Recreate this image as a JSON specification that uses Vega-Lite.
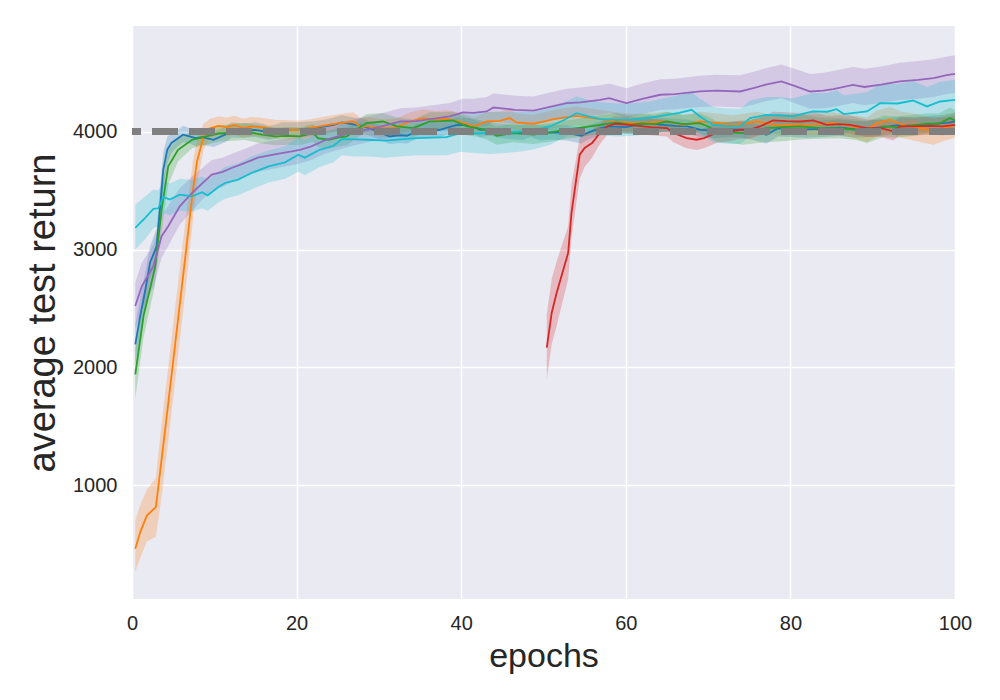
{
  "$schema": "https://vega.github.io/schema/vega-lite/v6.json",
  "autosize": {"type": "none"},
  "width": 823,
  "height": 573,
  "padding": {"left": 132, "top": 26, "right": 45, "bottom": 101},
  "background": "#FFFFFF",
  "config": {
    "view": {"fill": "#EAEAF2", "stroke": null},
    "font": "Liberation Sans",
    "axis": {
      "domain": false,
      "ticks": false,
      "grid": true,
      "gridColor": "#FFFFFF",
      "gridWidth": 1.5,
      "labelFlush": false,
      "labelFont": "Liberation Sans",
      "labelFontSize": 20,
      "labelColor": "#262626",
      "titleFont": "Liberation Sans",
      "titleColor": "#262626",
      "titleFontWeight": "normal"
    }
  },
  "data": {
    "values": [
      {"s":"A","e":0.4,"m":2195,"l":2030,"h":2360},
      {"s":"A","e":1.0,"m":2435,"l":2280,"h":2590},
      {"s":"A","e":1.6,"m":2650,"l":2500,"h":2800},
      {"s":"A","e":2.2,"m":2890,"l":2750,"h":3030},
      {"s":"A","e":3.0,"m":3028,"l":2870,"h":3180},
      {"s":"A","e":3.4,"m":3350,"l":3180,"h":3520},
      {"s":"A","e":3.8,"m":3678,"l":3520,"h":3830},
      {"s":"A","e":4.3,"m":3850,"l":3730,"h":3960},
      {"s":"A","e":4.8,"m":3905,"l":3820,"h":3990},
      {"s":"A","e":5.5,"m":3940,"l":3870,"h":4010},
      {"s":"A","e":6.2,"m":3975,"l":3910,"h":4050},
      {"s":"A","e":7.0,"m":3960,"l":3900,"h":4030},
      {"s":"A","e":7.7,"m":3946,"l":3880,"h":4010},
      {"s":"A","e":8.5,"m":3955,"l":3890,"h":4020},
      {"s":"A","e":9.9,"m":3932,"l":3870,"h":4000},
      {"s":"A","e":11.3,"m":3975,"l":3910,"h":4040},
      {"s":"A","e":12.1,"m":4017,"l":3950,"h":4080},
      {"s":"A","e":13.5,"m":4010,"l":3950,"h":4070},
      {"s":"A","e":15.0,"m":4015,"l":3955,"h":4080},
      {"s":"A","e":16.0,"m":4003,"l":3940,"h":4065},
      {"s":"A","e":16.6,"m":3990,"l":3930,"h":4050},
      {"s":"A","e":17.4,"m":4000,"l":3940,"h":4060},
      {"s":"A","e":18.2,"m":4017,"l":3960,"h":4080},
      {"s":"A","e":20.0,"m":4017,"l":3955,"h":4080},
      {"s":"A","e":21.0,"m":4025,"l":3965,"h":4085},
      {"s":"A","e":22.2,"m":4031,"l":3970,"h":4090},
      {"s":"A","e":23.5,"m":4045,"l":3985,"h":4105},
      {"s":"A","e":24.5,"m":4059,"l":4000,"h":4120},
      {"s":"A","e":25.5,"m":4080,"l":4020,"h":4140},
      {"s":"A","e":27.0,"m":4060,"l":4000,"h":4120},
      {"s":"A","e":28.0,"m":4050,"l":3990,"h":4110},
      {"s":"A","e":29.3,"m":4017,"l":3955,"h":4080},
      {"s":"A","e":30.3,"m":3990,"l":3930,"h":4050},
      {"s":"A","e":31.3,"m":3960,"l":3895,"h":4025},
      {"s":"A","e":32.5,"m":3970,"l":3905,"h":4035},
      {"s":"A","e":33.4,"m":3966,"l":3900,"h":4030},
      {"s":"A","e":34.6,"m":4003,"l":3940,"h":4065},
      {"s":"A","e":36.0,"m":4010,"l":3950,"h":4070},
      {"s":"A","e":37.4,"m":4017,"l":3955,"h":4080},
      {"s":"A","e":38.5,"m":4040,"l":3980,"h":4100},
      {"s":"A","e":39.5,"m":4059,"l":4000,"h":4120},
      {"s":"A","e":41.0,"m":4055,"l":3995,"h":4115},
      {"s":"A","e":42.3,"m":4017,"l":3955,"h":4080},
      {"s":"A","e":43.5,"m":4025,"l":3965,"h":4085},
      {"s":"A","e":44.5,"m":4010,"l":3950,"h":4070},
      {"s":"A","e":45.5,"m":4003,"l":3940,"h":4065},
      {"s":"A","e":46.5,"m":3995,"l":3935,"h":4055},
      {"s":"A","e":47.5,"m":3994,"l":3930,"h":4060},
      {"s":"A","e":48.5,"m":4017,"l":3955,"h":4080},
      {"s":"A","e":49.6,"m":3989,"l":3925,"h":4050},
      {"s":"A","e":51.0,"m":3995,"l":3935,"h":4055},
      {"s":"A","e":52.8,"m":3990,"l":3925,"h":4055},
      {"s":"A","e":54.6,"m":3966,"l":3900,"h":4030},
      {"s":"A","e":55.5,"m":3995,"l":3935,"h":4055},
      {"s":"A","e":56.9,"m":4031,"l":3970,"h":4090},
      {"s":"A","e":58.0,"m":4045,"l":3985,"h":4105},
      {"s":"A","e":60.0,"m":4040,"l":3980,"h":4100},
      {"s":"A","e":61.5,"m":4060,"l":4000,"h":4120},
      {"s":"A","e":62.9,"m":4080,"l":4020,"h":4140},
      {"s":"A","e":64.0,"m":4060,"l":4000,"h":4120},
      {"s":"A","e":66.0,"m":4050,"l":3990,"h":4110},
      {"s":"A","e":67.5,"m":4045,"l":3985,"h":4105},
      {"s":"A","e":69.0,"m":4017,"l":3955,"h":4080},
      {"s":"A","e":71.0,"m":4010,"l":3945,"h":4075},
      {"s":"A","e":73.0,"m":4020,"l":3955,"h":4085},
      {"s":"A","e":74.2,"m":4017,"l":3950,"h":4085},
      {"s":"A","e":75.5,"m":4000,"l":3930,"h":4070},
      {"s":"A","e":77.1,"m":3975,"l":3900,"h":4050},
      {"s":"A","e":78.5,"m":4030,"l":3960,"h":4100},
      {"s":"A","e":80.0,"m":4025,"l":3955,"h":4095},
      {"s":"A","e":82.0,"m":4020,"l":3950,"h":4090},
      {"s":"A","e":84.0,"m":4025,"l":3955,"h":4095},
      {"s":"A","e":86.0,"m":4035,"l":3965,"h":4105},
      {"s":"A","e":88.0,"m":4020,"l":3950,"h":4090},
      {"s":"A","e":90.0,"m":4030,"l":3960,"h":4100},
      {"s":"A","e":92.0,"m":4045,"l":3975,"h":4115},
      {"s":"A","e":93.3,"m":4059,"l":3990,"h":4130},
      {"s":"A","e":95.0,"m":4050,"l":3980,"h":4120},
      {"s":"A","e":97.0,"m":4065,"l":3995,"h":4135},
      {"s":"A","e":99.0,"m":4075,"l":4005,"h":4145},
      {"s":"A","e":100,"m":4087,"l":4015,"h":4160},

      {"s":"B","e":0.4,"m":458,"l":263,"h":700},
      {"s":"B","e":1.0,"m":600,"l":380,"h":830},
      {"s":"B","e":1.8,"m":740,"l":520,"h":960},
      {"s":"B","e":2.9,"m":813,"l":560,"h":1060},
      {"s":"B","e":3.6,"m":1220,"l":900,"h":1520},
      {"s":"B","e":4.5,"m":1750,"l":1430,"h":2060},
      {"s":"B","e":5.5,"m":2350,"l":2040,"h":2660},
      {"s":"B","e":6.5,"m":2950,"l":2650,"h":3250},
      {"s":"B","e":7.4,"m":3500,"l":3250,"h":3750},
      {"s":"B","e":7.9,"m":3748,"l":3550,"h":3930},
      {"s":"B","e":8.7,"m":3960,"l":3850,"h":4070},
      {"s":"B","e":9.5,"m":4030,"l":3950,"h":4110},
      {"s":"B","e":10.5,"m":4050,"l":3970,"h":4130},
      {"s":"B","e":11.5,"m":4040,"l":3960,"h":4120},
      {"s":"B","e":12.5,"m":4055,"l":3975,"h":4135},
      {"s":"B","e":13.5,"m":4030,"l":3950,"h":4110},
      {"s":"B","e":14.5,"m":4045,"l":3965,"h":4125},
      {"s":"B","e":15.5,"m":4040,"l":3960,"h":4120},
      {"s":"B","e":16.5,"m":4030,"l":3950,"h":4110},
      {"s":"B","e":17.5,"m":4020,"l":3940,"h":4100},
      {"s":"B","e":18.5,"m":4020,"l":3940,"h":4100},
      {"s":"B","e":19.5,"m":4015,"l":3935,"h":4095},
      {"s":"B","e":20.4,"m":4017,"l":3940,"h":4095},
      {"s":"B","e":21.5,"m":4030,"l":3955,"h":4105},
      {"s":"B","e":22.8,"m":4045,"l":3970,"h":4120},
      {"s":"B","e":24.0,"m":4060,"l":3985,"h":4135},
      {"s":"B","e":25.3,"m":4073,"l":3995,"h":4150},
      {"s":"B","e":26.9,"m":4087,"l":4010,"h":4165},
      {"s":"B","e":27.7,"m":4045,"l":3970,"h":4120},
      {"s":"B","e":29.0,"m":4045,"l":3970,"h":4120},
      {"s":"B","e":30.5,"m":4031,"l":3955,"h":4105},
      {"s":"B","e":32.0,"m":4035,"l":3960,"h":4110},
      {"s":"B","e":33.8,"m":4087,"l":4010,"h":4165},
      {"s":"B","e":35.4,"m":4116,"l":4040,"h":4190},
      {"s":"B","e":37.0,"m":4100,"l":4025,"h":4175},
      {"s":"B","e":38.2,"m":4108,"l":4030,"h":4185},
      {"s":"B","e":39.5,"m":4090,"l":4015,"h":4165},
      {"s":"B","e":40.7,"m":4068,"l":3990,"h":4145},
      {"s":"B","e":41.5,"m":4045,"l":3970,"h":4120},
      {"s":"B","e":43.1,"m":4087,"l":4010,"h":4165},
      {"s":"B","e":44.7,"m":4093,"l":4015,"h":4170},
      {"s":"B","e":45.9,"m":4116,"l":4040,"h":4190},
      {"s":"B","e":46.7,"m":4079,"l":4000,"h":4155},
      {"s":"B","e":48.7,"m":4068,"l":3990,"h":4145},
      {"s":"B","e":50.0,"m":4085,"l":4005,"h":4165},
      {"s":"B","e":51.2,"m":4108,"l":4030,"h":4185},
      {"s":"B","e":52.5,"m":4120,"l":4040,"h":4200},
      {"s":"B","e":54.0,"m":4135,"l":4055,"h":4215},
      {"s":"B","e":55.5,"m":4120,"l":4040,"h":4200},
      {"s":"B","e":56.9,"m":4108,"l":4030,"h":4185},
      {"s":"B","e":58.9,"m":4087,"l":4010,"h":4165},
      {"s":"B","e":60.9,"m":4073,"l":3995,"h":4150},
      {"s":"B","e":63.0,"m":4080,"l":4000,"h":4160},
      {"s":"B","e":65.0,"m":4087,"l":4005,"h":4170},
      {"s":"B","e":67.0,"m":4059,"l":3975,"h":4140},
      {"s":"B","e":69.0,"m":4087,"l":4005,"h":4170},
      {"s":"B","e":71.0,"m":4075,"l":3995,"h":4155},
      {"s":"B","e":73.1,"m":4059,"l":3980,"h":4140},
      {"s":"B","e":75.9,"m":4087,"l":4005,"h":4170},
      {"s":"B","e":78.7,"m":4051,"l":3970,"h":4130},
      {"s":"B","e":80.5,"m":4060,"l":3975,"h":4145},
      {"s":"B","e":82.0,"m":4059,"l":3970,"h":4145},
      {"s":"B","e":85.2,"m":4073,"l":3980,"h":4165},
      {"s":"B","e":87.6,"m":4045,"l":3950,"h":4140},
      {"s":"B","e":89.3,"m":4017,"l":3910,"h":4120},
      {"s":"B","e":90.5,"m":4073,"l":3960,"h":4180},
      {"s":"B","e":92.1,"m":4102,"l":3990,"h":4210},
      {"s":"B","e":93.5,"m":4060,"l":3950,"h":4170},
      {"s":"B","e":95.3,"m":4040,"l":3920,"h":4150},
      {"s":"B","e":97.4,"m":4003,"l":3890,"h":4110},
      {"s":"B","e":99.0,"m":4040,"l":3930,"h":4150},
      {"s":"B","e":100,"m":4059,"l":3950,"h":4165},

      {"s":"C","e":0.4,"m":1940,"l":1730,"h":2150},
      {"s":"C","e":1.4,"m":2435,"l":2250,"h":2620},
      {"s":"C","e":2.8,"m":2847,"l":2700,"h":3000},
      {"s":"C","e":3.6,"m":3339,"l":3150,"h":3520},
      {"s":"C","e":4.4,"m":3706,"l":3550,"h":3850},
      {"s":"C","e":5.6,"m":3847,"l":3750,"h":3940},
      {"s":"C","e":7.3,"m":3932,"l":3860,"h":4005},
      {"s":"C","e":9.0,"m":3960,"l":3890,"h":4030},
      {"s":"C","e":10.5,"m":3985,"l":3915,"h":4055},
      {"s":"C","e":11.3,"m":3989,"l":3920,"h":4060},
      {"s":"C","e":13.7,"m":4003,"l":3930,"h":4075},
      {"s":"C","e":15.8,"m":3975,"l":3900,"h":4050},
      {"s":"C","e":17.4,"m":3960,"l":3885,"h":4035},
      {"s":"C","e":19.0,"m":3965,"l":3890,"h":4040},
      {"s":"C","e":20.4,"m":3960,"l":3885,"h":4035},
      {"s":"C","e":22.0,"m":3989,"l":3915,"h":4065},
      {"s":"C","e":22.6,"m":3946,"l":3870,"h":4020},
      {"s":"C","e":23.9,"m":3932,"l":3855,"h":4010},
      {"s":"C","e":25.0,"m":3950,"l":3875,"h":4025},
      {"s":"C","e":26.1,"m":3960,"l":3885,"h":4035},
      {"s":"C","e":27.5,"m":4030,"l":3955,"h":4105},
      {"s":"C","e":28.5,"m":4073,"l":4000,"h":4150},
      {"s":"C","e":30.5,"m":4087,"l":4010,"h":4160},
      {"s":"C","e":32.2,"m":4045,"l":3970,"h":4120},
      {"s":"C","e":34.2,"m":4031,"l":3955,"h":4105},
      {"s":"C","e":35.2,"m":4060,"l":3985,"h":4135},
      {"s":"C","e":36.2,"m":4087,"l":4010,"h":4165},
      {"s":"C","e":37.5,"m":4090,"l":4015,"h":4165},
      {"s":"C","e":39.0,"m":4096,"l":4020,"h":4170},
      {"s":"C","e":40.7,"m":4045,"l":3970,"h":4120},
      {"s":"C","e":42.0,"m":4030,"l":3955,"h":4105},
      {"s":"C","e":43.1,"m":4011,"l":3935,"h":4085},
      {"s":"C","e":44.3,"m":3966,"l":3890,"h":4045},
      {"s":"C","e":46.3,"m":3989,"l":3910,"h":4065},
      {"s":"C","e":48.8,"m":3975,"l":3895,"h":4055},
      {"s":"C","e":50.8,"m":3995,"l":3915,"h":4075},
      {"s":"C","e":52.8,"m":4017,"l":3940,"h":4095},
      {"s":"C","e":55.0,"m":4040,"l":3960,"h":4120},
      {"s":"C","e":56.9,"m":4059,"l":3980,"h":4140},
      {"s":"C","e":58.9,"m":4080,"l":4000,"h":4160},
      {"s":"C","e":60.5,"m":4060,"l":3980,"h":4140},
      {"s":"C","e":62.0,"m":4070,"l":3990,"h":4150},
      {"s":"C","e":63.5,"m":4065,"l":3985,"h":4145},
      {"s":"C","e":65.0,"m":4087,"l":4005,"h":4170},
      {"s":"C","e":67.0,"m":4065,"l":3985,"h":4145},
      {"s":"C","e":69.0,"m":4073,"l":3990,"h":4155},
      {"s":"C","e":70.0,"m":4045,"l":3960,"h":4130},
      {"s":"C","e":71.0,"m":4003,"l":3915,"h":4090},
      {"s":"C","e":72.5,"m":3995,"l":3905,"h":4085},
      {"s":"C","e":74.2,"m":3989,"l":3890,"h":4085},
      {"s":"C","e":75.5,"m":4010,"l":3900,"h":4110},
      {"s":"C","e":77.1,"m":4031,"l":3910,"h":4140},
      {"s":"C","e":79.0,"m":4040,"l":3920,"h":4150},
      {"s":"C","e":81.2,"m":4045,"l":3935,"h":4150},
      {"s":"C","e":83.6,"m":4031,"l":3940,"h":4120},
      {"s":"C","e":86.0,"m":4030,"l":3945,"h":4115},
      {"s":"C","e":88.0,"m":4017,"l":3930,"h":4105},
      {"s":"C","e":89.3,"m":3994,"l":3905,"h":4085},
      {"s":"C","e":91.3,"m":4045,"l":3955,"h":4135},
      {"s":"C","e":93.0,"m":4040,"l":3950,"h":4130},
      {"s":"C","e":95.0,"m":4055,"l":3965,"h":4145},
      {"s":"C","e":96.6,"m":4068,"l":3980,"h":4155},
      {"s":"C","e":98.0,"m":4068,"l":3980,"h":4155},
      {"s":"C","e":99.4,"m":4116,"l":4025,"h":4205},
      {"s":"C","e":100,"m":4095,"l":4005,"h":4185},

      {"s":"D","e":50.4,"m":2167,"l":1900,"h":2450},
      {"s":"D","e":51.0,"m":2463,"l":2200,"h":2750},
      {"s":"D","e":51.6,"m":2633,"l":2350,"h":2900},
      {"s":"D","e":53.0,"m":2972,"l":2750,"h":3200},
      {"s":"D","e":53.4,"m":3311,"l":3100,"h":3550},
      {"s":"D","e":54.4,"m":3805,"l":3600,"h":3950},
      {"s":"D","e":55.0,"m":3862,"l":3700,"h":3990},
      {"s":"D","e":55.9,"m":3904,"l":3780,"h":4020},
      {"s":"D","e":56.7,"m":3975,"l":3880,"h":4060},
      {"s":"D","e":57.7,"m":4045,"l":3970,"h":4110},
      {"s":"D","e":58.7,"m":4068,"l":4000,"h":4130},
      {"s":"D","e":60.0,"m":4060,"l":3990,"h":4130},
      {"s":"D","e":61.5,"m":4050,"l":3980,"h":4120},
      {"s":"D","e":63.0,"m":4040,"l":3970,"h":4110},
      {"s":"D","e":65.0,"m":4031,"l":3960,"h":4100},
      {"s":"D","e":65.8,"m":3989,"l":3910,"h":4065},
      {"s":"D","e":67.4,"m":3946,"l":3860,"h":4030},
      {"s":"D","e":68.6,"m":3932,"l":3845,"h":4020},
      {"s":"D","e":69.5,"m":3946,"l":3860,"h":4030},
      {"s":"D","e":71.0,"m":3989,"l":3905,"h":4075},
      {"s":"D","e":72.5,"m":4000,"l":3920,"h":4080},
      {"s":"D","e":73.9,"m":4017,"l":3940,"h":4095},
      {"s":"D","e":75.0,"m":4017,"l":3940,"h":4095},
      {"s":"D","e":76.3,"m":4045,"l":3970,"h":4120},
      {"s":"D","e":77.9,"m":4096,"l":4020,"h":4170},
      {"s":"D","e":79.5,"m":4090,"l":4015,"h":4165},
      {"s":"D","e":81.2,"m":4087,"l":4010,"h":4160},
      {"s":"D","e":82.8,"m":4096,"l":4020,"h":4170},
      {"s":"D","e":84.4,"m":4059,"l":3985,"h":4135},
      {"s":"D","e":86.0,"m":4065,"l":3990,"h":4140},
      {"s":"D","e":87.2,"m":4059,"l":3985,"h":4135},
      {"s":"D","e":89.3,"m":4031,"l":3955,"h":4105},
      {"s":"D","e":91.0,"m":4030,"l":3955,"h":4105},
      {"s":"D","e":92.5,"m":4003,"l":3925,"h":4080},
      {"s":"D","e":93.3,"m":4045,"l":3970,"h":4120},
      {"s":"D","e":95.0,"m":4045,"l":3970,"h":4120},
      {"s":"D","e":97.0,"m":4050,"l":3975,"h":4125},
      {"s":"D","e":98.5,"m":4045,"l":3970,"h":4120},
      {"s":"D","e":100,"m":4059,"l":3985,"h":4135},

      {"s":"E","e":0.4,"m":2520,"l":2330,"h":2720},
      {"s":"E","e":1.2,"m":2690,"l":2490,"h":2890},
      {"s":"E","e":2.6,"m":2858,"l":2680,"h":3040},
      {"s":"E","e":3.6,"m":3113,"l":2930,"h":3290},
      {"s":"E","e":4.4,"m":3198,"l":3030,"h":3370},
      {"s":"E","e":5.8,"m":3367,"l":3210,"h":3520},
      {"s":"E","e":7.3,"m":3480,"l":3330,"h":3620},
      {"s":"E","e":8.5,"m":3560,"l":3420,"h":3690},
      {"s":"E","e":9.7,"m":3636,"l":3500,"h":3760},
      {"s":"E","e":11.0,"m":3660,"l":3530,"h":3780},
      {"s":"E","e":12.1,"m":3692,"l":3570,"h":3810},
      {"s":"E","e":13.5,"m":3730,"l":3610,"h":3850},
      {"s":"E","e":15.3,"m":3780,"l":3660,"h":3900},
      {"s":"E","e":17.5,"m":3810,"l":3690,"h":3930},
      {"s":"E","e":19.4,"m":3833,"l":3715,"h":3950},
      {"s":"E","e":20.4,"m":3847,"l":3730,"h":3965},
      {"s":"E","e":21.8,"m":3876,"l":3760,"h":3990},
      {"s":"E","e":23.5,"m":3930,"l":3815,"h":4045},
      {"s":"E","e":25.0,"m":3960,"l":3845,"h":4075},
      {"s":"E","e":26.5,"m":3989,"l":3875,"h":4100},
      {"s":"E","e":28.0,"m":4010,"l":3900,"h":4120},
      {"s":"E","e":30.0,"m":4040,"l":3930,"h":4150},
      {"s":"E","e":32.6,"m":4087,"l":3975,"h":4200},
      {"s":"E","e":34.5,"m":4090,"l":3975,"h":4205},
      {"s":"E","e":36.5,"m":4110,"l":3995,"h":4225},
      {"s":"E","e":38.6,"m":4130,"l":4015,"h":4245},
      {"s":"E","e":40.2,"m":4164,"l":4045,"h":4280},
      {"s":"E","e":41.5,"m":4160,"l":4040,"h":4280},
      {"s":"E","e":43.1,"m":4172,"l":4050,"h":4295},
      {"s":"E","e":43.9,"m":4206,"l":4085,"h":4325},
      {"s":"E","e":45.5,"m":4195,"l":4075,"h":4315},
      {"s":"E","e":46.5,"m":4185,"l":4065,"h":4305},
      {"s":"E","e":48.8,"m":4180,"l":4060,"h":4300},
      {"s":"E","e":50.5,"m":4206,"l":4085,"h":4330},
      {"s":"E","e":52.8,"m":4243,"l":4120,"h":4365},
      {"s":"E","e":54.5,"m":4250,"l":4125,"h":4375},
      {"s":"E","e":56.9,"m":4271,"l":4145,"h":4395},
      {"s":"E","e":58.0,"m":4285,"l":4160,"h":4410},
      {"s":"E","e":59.0,"m":4265,"l":4140,"h":4390},
      {"s":"E","e":60.1,"m":4243,"l":4115,"h":4370},
      {"s":"E","e":62.0,"m":4280,"l":4150,"h":4410},
      {"s":"E","e":64.2,"m":4314,"l":4185,"h":4445},
      {"s":"E","e":66.0,"m":4320,"l":4190,"h":4450},
      {"s":"E","e":69.0,"m":4342,"l":4210,"h":4475},
      {"s":"E","e":71.0,"m":4350,"l":4215,"h":4485},
      {"s":"E","e":73.9,"m":4342,"l":4205,"h":4480},
      {"s":"E","e":75.5,"m":4370,"l":4230,"h":4510},
      {"s":"E","e":77.0,"m":4400,"l":4260,"h":4540},
      {"s":"E","e":78.9,"m":4427,"l":4285,"h":4570},
      {"s":"E","e":80.5,"m":4390,"l":4245,"h":4535},
      {"s":"E","e":82.4,"m":4342,"l":4195,"h":4490},
      {"s":"E","e":84.0,"m":4350,"l":4200,"h":4500},
      {"s":"E","e":85.2,"m":4362,"l":4210,"h":4515},
      {"s":"E","e":87.6,"m":4398,"l":4245,"h":4550},
      {"s":"E","e":89.0,"m":4380,"l":4225,"h":4535},
      {"s":"E","e":91.0,"m":4400,"l":4245,"h":4555},
      {"s":"E","e":93.3,"m":4427,"l":4270,"h":4585},
      {"s":"E","e":95.5,"m":4440,"l":4280,"h":4600},
      {"s":"E","e":97.4,"m":4455,"l":4295,"h":4615},
      {"s":"E","e":99.0,"m":4480,"l":4320,"h":4640},
      {"s":"E","e":100,"m":4492,"l":4330,"h":4650},

      {"s":"F","e":0.4,"m":3184,"l":3000,"h":3380},
      {"s":"F","e":1.6,"m":3269,"l":3090,"h":3450},
      {"s":"F","e":2.6,"m":3345,"l":3180,"h":3510},
      {"s":"F","e":3.2,"m":3350,"l":3200,"h":3500},
      {"s":"F","e":3.8,"m":3447,"l":3310,"h":3580},
      {"s":"F","e":4.6,"m":3424,"l":3290,"h":3560},
      {"s":"F","e":5.8,"m":3466,"l":3330,"h":3600},
      {"s":"F","e":7.3,"m":3452,"l":3320,"h":3590},
      {"s":"F","e":8.5,"m":3486,"l":3350,"h":3620},
      {"s":"F","e":9.2,"m":3460,"l":3330,"h":3590},
      {"s":"F","e":10.5,"m":3531,"l":3400,"h":3660},
      {"s":"F","e":11.3,"m":3565,"l":3430,"h":3700},
      {"s":"F","e":12.9,"m":3593,"l":3460,"h":3730},
      {"s":"F","e":14.5,"m":3650,"l":3510,"h":3790},
      {"s":"F","e":16.6,"m":3706,"l":3570,"h":3840},
      {"s":"F","e":18.6,"m":3740,"l":3600,"h":3880},
      {"s":"F","e":20.2,"m":3805,"l":3660,"h":3950},
      {"s":"F","e":21.0,"m":3780,"l":3630,"h":3930},
      {"s":"F","e":22.8,"m":3847,"l":3700,"h":3990},
      {"s":"F","e":24.5,"m":3881,"l":3740,"h":4020},
      {"s":"F","e":25.5,"m":3938,"l":3800,"h":4075},
      {"s":"F","e":27.0,"m":3935,"l":3790,"h":4080},
      {"s":"F","e":28.5,"m":3932,"l":3790,"h":4075},
      {"s":"F","e":30.9,"m":3924,"l":3780,"h":4070},
      {"s":"F","e":32.5,"m":3935,"l":3790,"h":4080},
      {"s":"F","e":34.6,"m":3946,"l":3800,"h":4090},
      {"s":"F","e":36.5,"m":3950,"l":3800,"h":4100},
      {"s":"F","e":38.2,"m":3955,"l":3800,"h":4110},
      {"s":"F","e":39.9,"m":3989,"l":3830,"h":4150},
      {"s":"F","e":41.5,"m":3985,"l":3820,"h":4150},
      {"s":"F","e":43.5,"m":3990,"l":3810,"h":4170},
      {"s":"F","e":45.5,"m":3995,"l":3820,"h":4170},
      {"s":"F","e":47.0,"m":4000,"l":3830,"h":4170},
      {"s":"F","e":48.8,"m":4011,"l":3850,"h":4170},
      {"s":"F","e":50.8,"m":4045,"l":3890,"h":4200},
      {"s":"F","e":52.5,"m":4100,"l":3950,"h":4250},
      {"s":"F","e":54.0,"m":4158,"l":4010,"h":4300},
      {"s":"F","e":55.5,"m":4130,"l":3990,"h":4270},
      {"s":"F","e":56.9,"m":4108,"l":3970,"h":4250},
      {"s":"F","e":59.0,"m":4100,"l":3960,"h":4240},
      {"s":"F","e":61.0,"m":4105,"l":3965,"h":4245},
      {"s":"F","e":63.0,"m":4120,"l":3980,"h":4260},
      {"s":"F","e":65.0,"m":4144,"l":4000,"h":4290},
      {"s":"F","e":66.5,"m":4160,"l":4010,"h":4310},
      {"s":"F","e":68.0,"m":4186,"l":4035,"h":4335},
      {"s":"F","e":69.0,"m":4130,"l":3980,"h":4280},
      {"s":"F","e":70.6,"m":4059,"l":3910,"h":4210},
      {"s":"F","e":72.0,"m":4050,"l":3900,"h":4200},
      {"s":"F","e":73.9,"m":4045,"l":3895,"h":4195},
      {"s":"F","e":75.1,"m":4116,"l":3965,"h":4265},
      {"s":"F","e":77.1,"m":4144,"l":3990,"h":4295},
      {"s":"F","e":78.5,"m":4140,"l":3985,"h":4295},
      {"s":"F","e":80.3,"m":4130,"l":3975,"h":4285},
      {"s":"F","e":82.7,"m":4172,"l":4015,"h":4330},
      {"s":"F","e":84.5,"m":4170,"l":4010,"h":4330},
      {"s":"F","e":85.6,"m":4192,"l":4030,"h":4355},
      {"s":"F","e":86.5,"m":4150,"l":3990,"h":4310},
      {"s":"F","e":89.3,"m":4172,"l":4010,"h":4335},
      {"s":"F","e":90.9,"m":4243,"l":4080,"h":4405},
      {"s":"F","e":93.0,"m":4240,"l":4075,"h":4405},
      {"s":"F","e":94.9,"m":4265,"l":4100,"h":4430},
      {"s":"F","e":96.6,"m":4215,"l":4050,"h":4380},
      {"s":"F","e":98.2,"m":4257,"l":4090,"h":4425},
      {"s":"F","e":100,"m":4271,"l":4105,"h":4440}
    ]
  },
  "layer": [
    {
      "mark": {"type": "area", "opacity": 0.25, "interpolate": "linear"},
      "encoding": {
        "x": {"field": "e", "type": "quantitative", "scale": {"domain": [0, 100], "nice": false, "zero": false},
              "axis": {"values": [0, 20, 40, 60, 80, 100], "format": "d", "title": "epochs", "titleFontSize": 34, "labelPadding": 14, "titlePadding": 6}},
        "y": {"field": "l", "type": "quantitative", "scale": {"domain": [32, 4898], "nice": false, "zero": false},
              "axis": {"values": [1000, 2000, 3000, 4000], "format": "d", "title": "average test return", "titleFontSize": 38, "labelPadding": 15, "titlePadding": 10}},
        "y2": {"field": "h"},
        "color": {"field": "s", "type": "nominal", "legend": null,
                  "scale": {"domain": ["A", "B", "C", "D", "E", "F"], "range": ["#1f77b4", "#ff7f0e", "#2ca02c", "#d62728", "#9467bd", "#17becf"]}},
        "detail": {"field": "s"}
      }
    },
    {
      "mark": {"type": "line", "strokeWidth": 1.8},
      "encoding": {
        "x": {"field": "e", "type": "quantitative"},
        "y": {"field": "m", "type": "quantitative"},
        "color": {"field": "s", "type": "nominal", "legend": null},
        "detail": {"field": "s"}
      }
    },
    {
      "mark": {"type": "rule", "color": "#808080", "strokeWidth": 6, "strokeDash": [26, 11]},
      "encoding": {"y": {"datum": 4000}}
    }
  ]
}
